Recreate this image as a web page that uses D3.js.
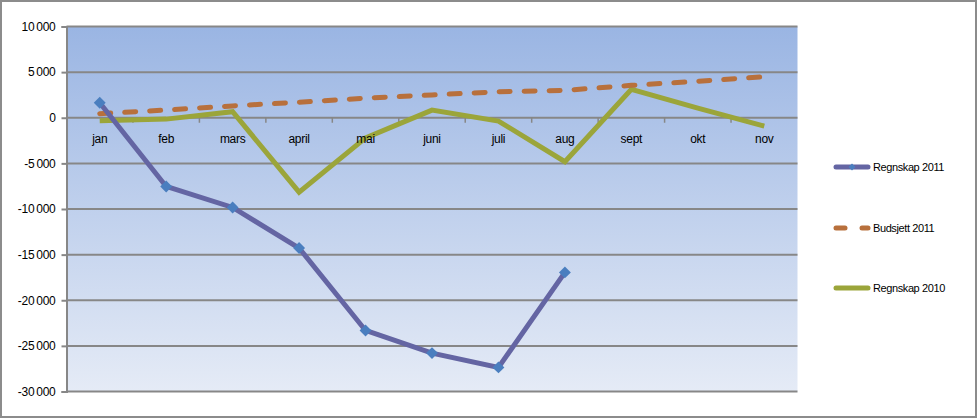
<!DOCTYPE html>
<html><head><meta charset="utf-8">
<script src="https://cdn.jsdelivr.net/npm/d3@7/dist/d3.min.js"></script>
<style>body{margin:0;background:#fff;}text{font-family:"Liberation Sans",Arial,sans-serif;fill:#000;}</style>
</head><body><svg id="c" width="978" height="420"></svg>
<script>
const months = ["jan","feb","mars","april","mai","juni","juli","aug","sept","okt","nov"];
const regnskap2011 = [1640,-7530,-9830,-14280,-23310,-25790,-27360,-16950];
const budsjett2011 = [450,850,1300,1700,2150,2500,2850,3000,3550,4000,4500];
const regnskap2010 = [-330,-150,660,-8150,-2200,840,-360,-4820,3110,1060,-910];
const yTicks = [10000,5000,0,-5000,-10000,-15000,-20000,-25000,-30000];
const seriesNames = ["Regnskap 2011","Budsjett 2011","Regnskap 2010"];

const svg = d3.select("#c");
const L=66.5, R=797.5, T=26.5, B=391.5;
const x = d3.scaleBand().domain(months).range([L,R]).padding(0);
const cx = d => x(d)+x.bandwidth()/2;
const y = d3.scaleLinear().domain([-30000,10000]).range([B,T]);

// outer border
svg.append("rect").attr("x",1).attr("y",1).attr("width",975).attr("height",416)
  .attr("fill","#fff").attr("stroke","#8c8c8c").attr("stroke-width",2);

// gradient
const defs = svg.append("defs");
const g = defs.append("linearGradient").attr("id","bg").attr("x1",0).attr("y1",0).attr("x2",0).attr("y2",1);
g.append("stop").attr("offset","0%").attr("stop-color","#9ab5e3");
g.append("stop").attr("offset","100%").attr("stop-color","#e5ebf6");
svg.append("rect").attr("x",L).attr("y",T).attr("width",R-L).attr("height",B-T).attr("fill","url(#bg)");

// gridlines
svg.append("g").selectAll("line").data(yTicks).join("line")
  .attr("x1",L).attr("x2",R).attr("y1",d=>y(d)).attr("y2",d=>y(d))
  .attr("stroke","#878787").attr("stroke-width",2);

// y axis
const fmt = v => { const s = Math.abs(v).toString(); const t = s.length>3 ? s.slice(0,-3)+"\u2009"+s.slice(-3) : s; return (v<0?"-":"")+t; };
const yAxis = d3.axisLeft(y).tickValues(yTicks).tickSize(5).tickPadding(6).tickFormat(fmt);
const ya = svg.append("g").attr("transform",`translate(${L},0)`).call(yAxis);
ya.select(".domain").attr("stroke","#878787").attr("stroke-width",2);
ya.selectAll(".tick line").attr("stroke","#878787").attr("stroke-width",2);
ya.selectAll("text").attr("font-size","12px").attr("font-family","Liberation Sans, Arial, sans-serif").attr("fill","#000").attr("letter-spacing","-0.3px");

// x axis ticks at zero
const xa = svg.append("g").attr("transform",`translate(0,${y(0)})`);
const bounds = months.map(m=>x(m)).concat([R]);
xa.selectAll("line").data(bounds.slice(1,-1)).join("line")
  .attr("x1",d=>d).attr("x2",d=>d).attr("y1",0).attr("y2",5).attr("stroke","#878787").attr("stroke-width",1.5);

// lines
const line = d3.line().x((d,i)=>cx(months[i])).y(d=>y(d));
svg.append("path").datum(regnskap2010).attr("d",line).attr("fill","none")
  .attr("stroke","#9ba53a").attr("stroke-width",5).attr("stroke-linejoin","miter");
svg.append("path").datum(budsjett2011).attr("d",line).attr("fill","none")
  .attr("stroke","#b8703c").attr("stroke-width",5).attr("stroke-dasharray","11,14").attr("stroke-linecap","round");
svg.append("path").datum(regnskap2011).attr("d",line).attr("fill","none")
  .attr("stroke","#6465a3").attr("stroke-width",5);
const dsym = d3.symbol().type(d3.symbolDiamond2).size(90);
svg.append("g").selectAll("path").data(regnskap2011).join("path")
  .attr("transform",(d,i)=>`translate(${cx(months[i])},${y(d)})`)
  .attr("d",dsym).attr("fill","#4a7ebf");

// x labels on top of lines
svg.append("g").selectAll("text").data(months).join("text")
  .attr("x",d=>cx(d)).attr("y",y(0)+25).attr("text-anchor","middle")
  .attr("font-size","12px").attr("letter-spacing","-0.3px").text(d=>d);

// legend
const lg = svg.append("g");
const ly = [167,228,288];
const lcol = ["#6465a3","#b8703c","#9ba53a"];
seriesNames.forEach((n,i)=>{
  const gg = lg.append("g");
  if(i===1){
    gg.append("line").attr("x1",836).attr("x2",845).attr("y1",ly[i]).attr("y2",ly[i]).attr("stroke",lcol[i]).attr("stroke-width",5).attr("stroke-linecap","round");
    gg.append("line").attr("x1",862).attr("x2",868).attr("y1",ly[i]).attr("y2",ly[i]).attr("stroke",lcol[i]).attr("stroke-width",5).attr("stroke-linecap","round");
  } else {
    gg.append("line").attr("x1",836).attr("x2",868).attr("y1",ly[i]).attr("y2",ly[i]).attr("stroke",lcol[i]).attr("stroke-width",5).attr("stroke-linecap","round");
  }
  if(i===0){
    gg.append("path").attr("transform",`translate(852,${ly[i]})`).attr("d",d3.symbol().type(d3.symbolDiamond2).size(30)).attr("fill","#4a7ebf");
  }
  gg.append("text").attr("x",873).attr("y",ly[i]+4).attr("font-size","11px").attr("letter-spacing","-0.4px").text(n);
});
</script></body></html>
